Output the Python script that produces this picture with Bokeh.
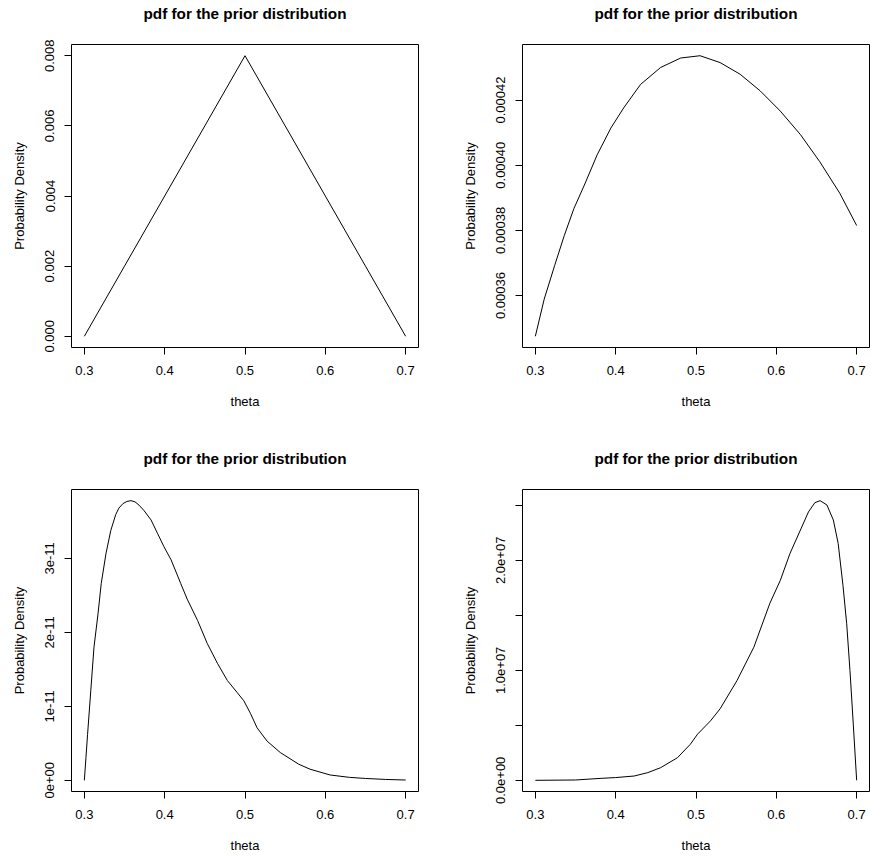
from bokeh.plotting import figure
from bokeh.layouts import gridplot
from bokeh.models import Range1d, FixedTicker, LinearAxis, Title
from bokeh.embed import file_html
from bokeh.resources import INLINE

# ---------------- data ----------------
title_text = "pdf for the prior distribution"
x_label = "theta"
y_label = "Probability Density"

x_ticks = [0.3, 0.4, 0.5, 0.6, 0.7]
x_tick_labels = ["0.3", "0.4", "0.5", "0.6", "0.7"]

# panel 1: triangular prior
theta1 = [0.30, 0.35, 0.40, 0.45, 0.50, 0.55, 0.60, 0.65, 0.70]
dens1 = [0.000, 0.002, 0.004, 0.006, 0.008, 0.006, 0.004, 0.002, 0.000]
y1_ticks = [0.000, 0.002, 0.004, 0.006, 0.008]
y1_labels = ["0.000", "0.002", "0.004", "0.006", "0.008"]

# panel 2
theta2 = [0.300, 0.311, 0.324, 0.336, 0.348, 0.361, 0.377, 0.394, 0.410, 0.431,
          0.456, 0.481, 0.505, 0.530, 0.555, 0.580, 0.605, 0.630, 0.654, 0.679, 0.700]
dens2 = [0.0003475, 0.0003589, 0.0003692, 0.0003784, 0.0003867, 0.0003939, 0.0004032,
         0.0004114, 0.0004176, 0.0004248, 0.0004300, 0.0004329, 0.0004336, 0.0004315,
         0.0004279, 0.0004228, 0.0004166, 0.0004094, 0.0004011, 0.0003914, 0.0003815]
y2_ticks = [0.00036, 0.00038, 0.00040, 0.00042]
y2_labels = ["0.00036", "0.00038", "0.00040", "0.00042"]

# panel 3 (values x 1e-11)
theta3 = [0.300, 0.302, 0.304, 0.308, 0.312, 0.317, 0.321, 0.327, 0.333, 0.339,
          0.343, 0.348, 0.353, 0.358, 0.363, 0.368, 0.374, 0.383, 0.391, 0.399,
          0.408, 0.420, 0.428, 0.441, 0.453, 0.466, 0.478, 0.490, 0.4985, 0.507,
          0.515, 0.5275, 0.544, 0.567, 0.581, 0.606, 0.630, 0.650, 0.675, 0.700]
dens3_e11 = [0.00, 0.31, 0.62, 1.21, 1.80, 2.25, 2.66, 3.07, 3.38, 3.59,
             3.68, 3.74, 3.77, 3.78, 3.765, 3.72, 3.65, 3.52, 3.34, 3.16,
             2.98, 2.66, 2.45, 2.16, 1.85, 1.575, 1.35, 1.19, 1.076, 0.90,
             0.71, 0.53, 0.375, 0.217, 0.15, 0.072, 0.040, 0.025, 0.012, 0.004]
y3_ticks = [0.0, 1e-11, 2e-11, 3e-11]
y3_labels = ["0e+00", "1e-11", "2e-11", "3e-11"]

# panel 4 (values x 1e7)
theta4 = [0.300, 0.350, 0.382, 0.400, 0.423, 0.440, 0.456, 0.477, 0.493, 0.502,
          0.518, 0.530, 0.551, 0.572, 0.592, 0.605, 0.617, 0.630, 0.640, 0.648,
          0.6545, 0.663, 0.671, 0.677, 0.683, 0.6876, 0.6917, 0.6958, 0.700]
dens4_e7 = [0.000, 0.003, 0.018, 0.025, 0.039, 0.070, 0.115, 0.206, 0.328, 0.420,
            0.540, 0.650, 0.906, 1.210, 1.610, 1.818, 2.062, 2.275, 2.440, 2.524,
            2.542, 2.503, 2.366, 2.153, 1.770, 1.423, 0.997, 0.511, 0.000]
y4_ticks = [0.0, 5e6, 1e7, 1.5e7, 2e7, 2.5e7]
y4_labels = ["0.0e+00", "", "1.0e+07", "", "2.0e+07", ""]

dens3 = [v * 1e-11 for v in dens3_e11]
dens4 = [v * 1e7 for v in dens4_e7]

FONT = "Liberation Sans"
FIG_W, FIG_H = 435, 429


def padded(lo, hi, frac=0.04):
    d = (hi - lo) * frac
    return Range1d(lo - d, hi + d)


def make_panel(xs, ys, yticks, ylabels, left, right, top, bottom):
    p = figure(width=FIG_W, height=FIG_H, output_backend="svg", toolbar_location=None,
               min_border_left=left, min_border_right=right,
               min_border_top=top, min_border_bottom=bottom,
               x_range=padded(min(xs), max(xs)), y_range=padded(min(ys), max(ys)),
               background_fill_color="white", border_fill_color="white")
    p.line(xs, ys, line_color="black", line_width=1)
    p.grid.visible = False
    p.outline_line_color = "black"
    p.outline_line_width = 1
    p.outline_line_alpha = 1.0

    xa = p.below[0]
    ya = p.left[0]
    for ax in (xa, ya):
        ax.axis_line_color = None
        ax.major_tick_line_color = "black"
        ax.major_tick_out = 7
        ax.major_tick_in = 0
        ax.minor_tick_line_color = None
        ax.major_label_text_font = FONT
        ax.major_label_text_font_size = "13px"
        ax.major_label_text_color = "black"
        ax.axis_label_text_font = FONT
        ax.axis_label_text_font_size = "13px"
        ax.axis_label_text_font_style = "normal"
        ax.axis_label_text_color = "black"

    xa.ticker = FixedTicker(ticks=x_ticks)
    xa.major_label_overrides = {t: l for t, l in zip(x_ticks, x_tick_labels)}
    xa.axis_label = x_label
    xa.major_label_standoff = 11
    xa.axis_label_standoff = 16

    ya.ticker = FixedTicker(ticks=yticks)
    ya.major_label_overrides = {t: l for t, l in zip(yticks, ylabels)}
    ya.major_label_orientation = "vertical"
    ya.axis_label = y_label
    ya.major_label_standoff = 10
    ya.axis_label_standoff = 16

    # invisible spacer between frame and title (keeps the title high above the box);
    # its tick and label are not drawn (no colour), they only reserve room
    spacer = LinearAxis(ticker=FixedTicker(ticks=[0.5]), major_tick_out=23,
                        major_tick_in=0, major_tick_line_color=None,
                        minor_tick_line_color=None, axis_line_color=None,
                        major_label_text_font_size="13px", major_label_text_color=None,
                        major_label_standoff=0)
    p.add_layout(spacer, "above")
    p.add_layout(Title(text=title_text, text_font=FONT, text_font_size="15.3px",
                       text_font_style="bold", text_color="black", align="center",
                       vertical_align="bottom", standoff=0), "above")
    return p


p1 = make_panel(theta1, dens1, y1_ticks, y1_labels, 71, 17, 44, 82)
p2 = make_panel(theta2, dens2, y2_ticks, y2_labels, 87, 1, 44, 82)
p3 = make_panel(theta3, dens3, y3_ticks, y3_labels, 71, 17, 60, 67)
p4 = make_panel(theta4, dens4, y4_ticks, y4_labels, 87, 1, 60, 67)

grid = gridplot([[p1, p2], [p3, p4]], toolbar_location=None)

open("out.html", "w").write(file_html(grid, INLINE))
